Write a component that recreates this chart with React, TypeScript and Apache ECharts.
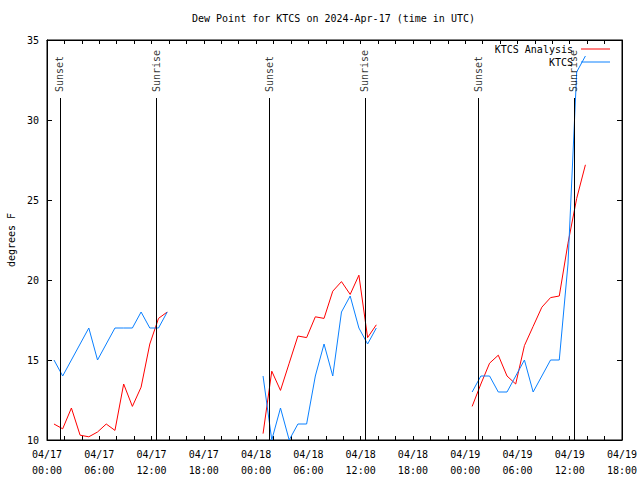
import React, { useEffect, useRef } from "react";
import * as echarts from "echarts";

const FONT = "DejaVu Sans Mono";

const titleText = "Dew Point for KTCS on 2024-Apr-17 (time in UTC)";
const yName = "degrees F";

const days = ["2024-04-17", "2024-04-18", "2024-04-19"];
const obsClock = [
  "00:48", "01:48", "02:48", "03:48", "04:48", "05:48", "06:48",
  "07:48", "08:48", "09:48", "10:48", "11:48", "12:48", "13:48",
];

// KTCS Analysis (red)
const analysisDay1 = [11.0, 10.7, 12.0, 10.3, 10.2, 10.5, 11.0, 10.6, 13.5, 12.1, 13.3, 16.0, 17.6, 18.0];
const analysisDay2 = [10.4, 14.3, 13.1, 14.8, 16.5, 16.4, 17.7, 17.6, 19.3, 19.9, 19.1, 20.3, 16.4, 17.2];
const analysisDay3 = [12.1, 13.5, 14.8, 15.3, 14.0, 13.5, 15.9, 17.1, 18.3, 18.9, 19.0, 22.3, 25.1, 27.2];

// KTCS observed (blue)
const ktcsDay1 = [15, 14, 15, 16, 17, 15, 16, 17, 17, 17, 18, 17, 17, 18];
const ktcsDay2 = [14, 10, 12, 10, 11, 11, 14, 16, 14, 18, 19, 17, 16, 17];
const ktcsDay3 = [13, 14, 14, 13, 13, 14, 15, 13, 14, 15, 15, 21, 33, 34];

const sunEvents = [
  { name: "Sunset", time: "2024-04-17 01:29" },
  { name: "Sunrise", time: "2024-04-17 12:31" },
  { name: "Sunset", time: "2024-04-18 01:30" },
  { name: "Sunrise", time: "2024-04-18 12:30" },
  { name: "Sunset", time: "2024-04-19 01:31" },
  { name: "Sunrise", time: "2024-04-19 12:29" },
];

const xStart = "2024-04-17 00:00";
const xEnd = "2024-04-19 18:00";
const yMin = 10;
const yMax = 35;
const yStep = 5;
const sunLineTop = 31.375;
const sunLabelAt = 31.75;

const RED = "#ff0000";
const BLUE = "#0a80ff";

const T = (s: string) => Date.parse(s.replace(" ", "T") + ":00Z");
const HOUR = 3600 * 1000;

const pad2 = (n: number) => (n < 10 ? "0" + n : "" + n);

function seg(day: string, vals: number[]) {
  return vals.map((v, i) => [T(day + " " + obsClock[i]), v]);
}

export default function App() {
  const ref = useRef<HTMLDivElement>(null);
  useEffect(() => {
    if (!ref.current) return;
    const chart = echarts.init(ref.current, undefined, { renderer: "svg" });
    const analysis = [analysisDay1, analysisDay2, analysisDay3];
    const ktcs = [ktcsDay1, ktcsDay2, ktcsDay3];
    const series: any[] = [];
    analysis.forEach((vals, i) => {
      series.push({
        name: "KTCS Analysis",
        type: "line",
        data: seg(days[i], vals),
        showSymbol: false,
        symbol: "none",
        lineStyle: { color: RED, width: 1 },
        itemStyle: { color: RED },
        z: 2,
      });
    });
    ktcs.forEach((vals, i) => {
      series.push({
        name: "KTCS",
        type: "line",
        data: seg(days[i], vals),
        showSymbol: false,
        symbol: "none",
        lineStyle: { color: BLUE, width: 1 },
        itemStyle: { color: BLUE },
        z: 3,
      });
    });
    series.push({
      type: "line",
      data: [],
      silent: true,
      z: 4,
      markLine: {
        silent: true,
        symbol: "none",
        animation: false,
        label: { show: false },
        lineStyle: { color: "#000", width: 1, type: "solid" },
        data: sunEvents.map((e) => [
          { coord: [T(e.time), yMin] },
          { coord: [T(e.time), sunLineTop] },
        ]),
      },
    });
    series.push({
      type: "scatter",
      silent: true,
      symbolSize: 0,
      z: 5,
      data: sunEvents.map((e) => ({ value: [T(e.time), sunLabelAt], name: e.name })),
      label: {
        show: true,
        position: "inside",
        formatter: (p: any) => p.name,
        rotate: 90,
        align: "left",
        verticalAlign: "middle",
        color: "#000",
        fontFamily: FONT,
        fontSize: 10,
      },
    });

    const xCommon = {
      type: "value",
      min: T(xStart),
      max: T(xEnd),
      interval: 2 * HOUR,
      splitLine: { show: false },
      axisLine: { show: true, lineStyle: { color: "#000", width: 1 } },
      axisTick: { show: true, inside: true, length: 4, lineStyle: { color: "#000" } },
    };
    const yCommon = {
      type: "value",
      min: yMin,
      max: yMax,
      interval: yStep,
      splitLine: { show: false },
      axisLine: { show: true, lineStyle: { color: "#000", width: 1 } },
      axisTick: { show: true, inside: true, length: 5, lineStyle: { color: "#000" } },
    };

    chart.setOption({
      animation: false,
      backgroundColor: "#fff",
      title: {
        text: titleText,
        left: 192,
        top: 13,
        padding: 0,
        textStyle: { fontFamily: FONT, fontSize: 10, fontWeight: "normal", color: "#000" },
      },
      legend: [
        {
          data: [{ name: "KTCS Analysis" }],
          right: 30,
          top: 44,
          padding: 0,
          align: "right",
          icon: "rect",
          itemWidth: 29,
          itemHeight: 1,
          textStyle: { fontFamily: FONT, fontSize: 10, color: "#000", padding: [0, 3, 0, 0] },
          selectedMode: false,
        },
        {
          data: [{ name: "KTCS" }],
          right: 30,
          top: 57,
          padding: 0,
          align: "right",
          icon: "rect",
          itemWidth: 29,
          itemHeight: 1,
          textStyle: { fontFamily: FONT, fontSize: 10, color: "#000", padding: [0, 3, 0, 0] },
          selectedMode: false,
        },
      ],
      grid: {
        left: 47,
        right: 18,
        top: 40,
        bottom: 40,
        containLabel: false,
        outerBoundsMode: "none",
        show: true,
        borderColor: "#000",
        borderWidth: 1,
        backgroundColor: "transparent",
      },
      xAxis: [
        {
          ...xCommon,
          position: "bottom",
          axisLabel: {
            show: true,
            margin: 6,
            color: "#000",
            fontFamily: FONT,
            fontSize: 10,
            lineHeight: 16,
            formatter: (v: number) => {
              const d = new Date(v);
              if (d.getUTCHours() % 6 !== 0) return "";
              return (
                pad2(d.getUTCMonth() + 1) + "/" + pad2(d.getUTCDate()) + "\n" +
                pad2(d.getUTCHours()) + ":00"
              );
            },
          },
        },
        {
          ...xCommon,
          position: "top",
          axisLabel: { show: false },
        },
      ],
      yAxis: [
        {
          ...yCommon,
          position: "left",
          name: yName,
          nameLocation: "middle",
          nameGap: 30,
          nameRotate: 90,
          nameTextStyle: { fontFamily: FONT, fontSize: 10, color: "#000" },
          axisLabel: { show: true, margin: 8, color: "#000", fontFamily: FONT, fontSize: 10 },
        },
        {
          ...yCommon,
          position: "right",
          axisLabel: { show: false },
        },
      ],
      series,
    });
    return () => chart.dispose();
  }, []);
  return <div ref={ref} style={{ width: 640, height: 480, position: "absolute", left: 0, top: 0 }} />;
}
